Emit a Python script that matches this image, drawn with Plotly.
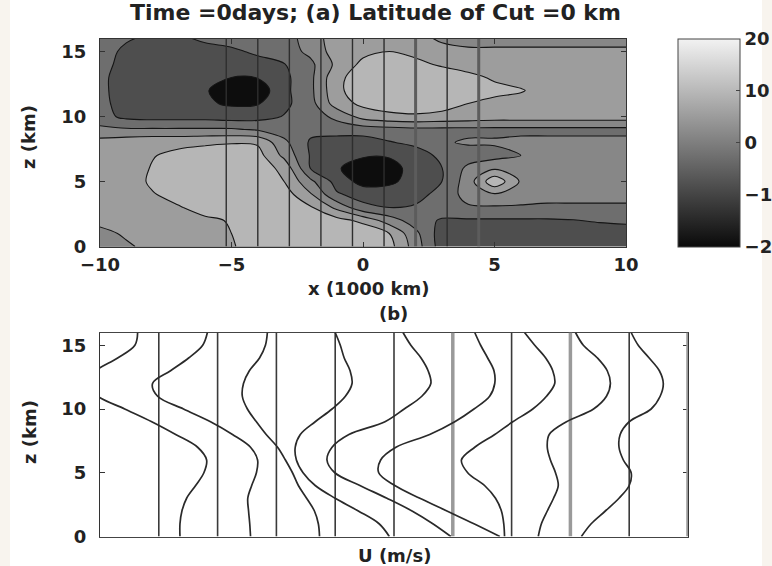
import plotly.graph_objects as go

W, H = 772, 566

# ---------------- data ----------------
# (a) zonal wind U (m/s) on an x-z grid: x in 1000 km, z in km
x_grid = list(range(-10, 11))
z_grid = list(range(0, 17))
u_field = [
    [-0.5, 1.5, 3, 4, 5, 5.8, 7, 8, 9, 9.5, 10, 7.5, 0, -8, -9, -9, -9, -9, -9, -9, -9],                      # z=0
    [1, 2.5, 3.5, 4.5, 5.5, 6, 7, 8, 8.5, 9, 9, 6, -1, -8, -8.5, -8.5, -8.5, -8.5, -8.5, -8.5, -8.5],           # z=1
    [3, 3, 4, 5, 5.5, 6.2, 7.5, 8, 8, 7.5, 5, 0, -4, -6.5, -6.5, -6.5, -6.5, -6.5, -6.2, -5.5, -5],            # z=2
    [3, 3.5, 4.5, 5.8, 7, 8, 8.5, 8, 6.5, 1, -5, -6, -5.5, -3.5, -2.5, -2.5, -2.5, -2.5, -2.5, -2.5, -2.5],    # z=3
    [3, 4, 5.8, 7, 8.5, 9, 9, 8, 2.5, -5.5, -7.5, -7.5, -7.5, -4.5, -0.5, 1.5, 0, -1, -1, -1, -1],              # z=4
    [3.5, 4.5, 6.5, 8.5, 9, 9, 8.5, 6, -1, -7.5, -11.5, -11, -8, -6, 0, 9, 1.5, 0, 0, 0, 0],                    # z=5
    [3.5, 4, 6.3, 8, 8.5, 8.5, 8, 5, -6, -9.5, -12.5, -12, -8, -6.1, -1, 1.5, 0, -0.5, 0, 0, 0],               # z=6
    [3.5, 4, 5.8, 7, 7.5, 8, 7.5, 1, -6.3, -9, -9.5, -9.5, -8, -5, -4, -3.5, -2, -1, -0.5, -0.5, -0.5],        # z=7
    [3.5, 4.5, 5, 5, 5.5, 5.8, 5.5, -1, -6.5, -8, -8, -6.3, -5, -2.5, -1.5, -1.5, -1, -1, -1, -1, -1],         # z=8
    [-1, -1.5, -1.5, -1.5, -1.5, -1.5, -2.5, -4, -5, -4, -4, -3.5, -3, -3, -3, -3, -3, -3, -3, -3, -3],        # z=9
    [-4.5, -7, -7.5, -7.5, -7.5, -8, -7.5, -5.8, -4, -1, 3.5, 5, 5.5, 5, 4.5, 4, 4, 4, 4, 4, 4],                # z=10
    [-5, -7.5, -8.5, -9, -9.5, -10.5, -10.3, -7, -3.5, 4, 7, 8, 8, 7.5, 6, 5, 4.5, 4, 4, 4, 4],                 # z=11
    [-5, -8, -9, -9, -9.5, -13, -12.5, -7, -3, 5, 8.5, 9.5, 9.5, 9, 8, 7, 6.3, 4.5, 4, 4, 4],                   # z=12
    [-5, -8, -9, -9.5, -9.5, -10, -9.8, -7, -3, 5, 8, 9, 9, 8.5, 7, 5.5, 4.5, 4, 4, 4, 4],                      # z=13
    [-4.5, -7.5, -9, -9, -9.5, -9, -8, -6.2, -3, 3, 7, 7.5, 7, 5.5, 4.5, 4, 4, 4, 4, 4, 4],                     # z=14
    [-4, -7, -8, -8, -8, -7, -5, -4, -1, 4, 5, 6, 5, 3, 2.5, 2.5, 2.5, 2.5, 2.5, 2.5, 2.5],                     # z=15
    [-4, -5.5, -7, -7, -5, -4, -4, -4, 0, 4, 4, 4, 3, 1.5, 1, 1, 1, 1, 1, 1, 1],                                # z=16
]

# longitudes of the vertical cuts (1000 km); panel (b) shows U(z) along each
cut_x = [-5.2, -4.0, -2.8, -1.6, -0.4, 0.8, 2.0, 3.2, 4.4]
gray_cuts = [6, 8]          # 0-based cuts drawn in gray in panel (a)
gray_slots = [6, 8, 10]     # zero lines drawn in gray in panel (b)

# (b) U profiles (m/s) at z = 0..16 km for each cut
prof_z = list(range(0, 17))
prof_u = [
    [5.4, 5.4, 5.9, 7.1, 9.4, 11.5, 12.2, 9.9, 4.3, -1.8, -8.7, -15.6, -18.9, -16.1, -10.5, -6.1, -5.4],
    [8.4, 8.2, 7.9, 7.7, 8.7, 9.9, 10.2, 8.4, 3.8, -1.8, -8.7, -15.3, -16.6, -12.0, -7.4, -3.8, -2.6],
    [11.0, 10.7, 9.7, 7.7, 5.6, 4.1, 2.3, 0.3, -2.6, -5.1, -7.4, -8.7, -8.4, -6.9, -4.3, -2.8, -2.3],
    [13.8, 11.2, 5.9, 0.0, -5.1, -8.2, -9.9, -10.2, -8.9, -5.1, -0.8, 2.6, 4.3, 3.8, 2.3, 1.3, 0.0],
    [14.5, 9.9, 4.6, -1.8, -8.7, -15.1, -17.1, -15.8, -11.5, -2.3, 2.6, 7.1, 9.4, 8.7, 6.9, 4.3, 2.3],
    [12.0, 5.4, -1.5, -8.4, -14.8, -18.9, -18.4, -14.5, -5.9, 0.5, 5.4, 9.4, 10.7, 10.5, 8.9, 7.1, 5.6],
    [-1.8, -2.0, -2.6, -4.1, -6.9, -11.2, -12.8, -9.4, -4.3, 0.3, 5.4, 8.9, 11.0, 10.5, 8.7, 5.9, 3.3],
    [-8.2, -7.4, -5.9, -4.3, -3.1, -3.8, -5.1, -5.9, -5.4, -1.0, 5.9, 9.2, 10.2, 9.4, 6.9, 3.3, 1.3],
    [-12.2, -9.7, -6.1, -2.6, 0.0, 0.5, -1.5, -2.6, -2.3, 0.0, 5.6, 7.9, 8.7, 7.7, 5.1, 2.3, 0.5],
]
u_per_slot = 15.0  # m/s per profile slot width in panel (b)

cb_ticks = [-20, -10, 0, 10, 20]
z_ticks = [0, 5, 10, 15]
x_ticks = [-10, -5, 0, 5, 10]

# ---------------- styling ----------------
font_tick = dict(family="DejaVu Sans", size=18, color="#222222", weight="bold")
font_label = dict(family="DejaVu Sans", size=18, color="#222222", weight="bold")
font_title = dict(family="DejaVu Sans", size=22, color="#222222", weight="bold")

# discrete gray bands for the filled contours (below -10 ... above 10)
band_colors = [
    [0.0, "#0d0d0d"],
    [1 / 6, "#4e4e4e"],
    [2 / 6, "#6e6e6e"],
    [3 / 6, "#878787"],
    [4 / 6, "#9d9d9d"],
    [5 / 6, "#b6b6b6"],
    [1.0, "#cbcbcb"],
]
bar_colors = [[0.0, "#0a0a0a"], [1.0, "#f2f2f2"]]

fig = go.Figure()

# panel (a): filled contours
fig.add_trace(go.Contour(
    x=x_grid, y=z_grid, z=u_field,
    contours=dict(start=-10, end=10, size=4, coloring="fill", showlines=True),
    colorscale=band_colors, showscale=False,
    line=dict(color="#151515", width=1.1, smoothing=1.0),
    hoverinfo="skip", xaxis="x", yaxis="y",
))


def vlines(xs, y0, y1):
    xx, yy = [], []
    for v in xs:
        xx += [v, v, None]
        yy += [y0, y1, None]
    return xx, yy


# panel (a): cut positions
dark = [c for i, c in enumerate(cut_x) if i not in gray_cuts]
light = [c for i, c in enumerate(cut_x) if i in gray_cuts]
for xs, col, wd in [(dark, "#2e2e2e", 1.4), (light, "#5c5c5c", 3)]:
    xx, yy = vlines(xs, 0, 16)
    fig.add_trace(go.Scatter(x=xx, y=yy, mode="lines", line=dict(color=col, width=wd),
                             hoverinfo="skip", showlegend=False, xaxis="x", yaxis="y"))

# continuous gray colour bar for U
fig.add_trace(go.Scatter(
    x=[0, 0], y=[8, 8], mode="markers", hoverinfo="skip", showlegend=False,
    marker=dict(size=1, opacity=0, color=[cb_ticks[0], cb_ticks[-1]], colorscale=bar_colors,
                cmin=cb_ticks[0], cmax=cb_ticks[-1], showscale=True,
                colorbar=dict(x=678 / W, xanchor="left", y=1 - 38.5 / H, yanchor="top",
                              len=208, lenmode="pixels", thickness=62, thicknessmode="pixels",
                              xpad=0, ypad=0, outlinewidth=1, outlinecolor="#444444",
                              ticks="inside", ticklen=4, tickcolor="#444444",
                              tickvals=cb_ticks, tickfont=font_tick)),
    xaxis="x", yaxis="y",
))

# panel (b): zero lines of each profile
n = len(prof_u)
slots = list(range(1, n + 2))
dark_slots = [k for k in slots if k not in gray_slots]
light_slots = [k for k in slots if k in gray_slots]
for xs, col, wd in [(dark_slots, "#3a3a3a", 1.6), (light_slots, "#9a9a9a", 3.5)]:
    xx, yy = vlines(xs, 0, 16)
    fig.add_trace(go.Scatter(x=xx, y=yy, mode="lines", line=dict(color=col, width=wd),
                             hoverinfo="skip", showlegend=False, xaxis="x2", yaxis="y2"))

# panel (b): U profiles offset by slot
for k, u in enumerate(prof_u, start=1):
    fig.add_trace(go.Scatter(
        x=[k + v / u_per_slot for v in u], y=prof_z, mode="lines",
        line=dict(color="#2a2a2a", width=1.7, shape="spline", smoothing=1.0),
        hoverinfo="skip", showlegend=False, xaxis="x2", yaxis="y2",
    ))

axis_common = dict(showgrid=False, zeroline=False, showline=True, linecolor="#333333",
                   linewidth=1, mirror="ticks", ticks="inside", ticklen=5,
                   tickcolor="#333333", tickfont=font_tick)

fig.update_layout(
    width=W, height=H,
    margin=dict(l=0, r=0, t=0, b=0, autoexpand=False),
    paper_bgcolor="white", plot_bgcolor="white",
    showlegend=False,
    xaxis=dict(domain=[100 / W, 626 / W], range=[-10, 10], tickvals=x_ticks,
               anchor="y", ticklabelstandoff=2, **axis_common),
    yaxis=dict(domain=[1 - 246.5 / H, 1 - 38.5 / H], range=[0, 16], tickvals=z_ticks,
               anchor="x", ticklabelstandoff=9, **axis_common),
    xaxis2=dict(domain=[100 / W, 688 / W], range=[0, 10], anchor="y2",
                showticklabels=False, ticks="", showgrid=False, zeroline=False,
                showline=True, mirror=True, linecolor="#444444", linewidth=1,
                layer="below traces"),
    yaxis2=dict(domain=[1 - 536.5 / H, 1 - 332.5 / H], range=[0, 16], tickvals=z_ticks,
                anchor="x2", ticklabelstandoff=9, layer="below traces", **axis_common),
    shapes=[
        dict(type="rect", xref="paper", yref="paper", x0=0, x1=10 / W, y0=0, y1=1,
             fillcolor="#f8f4ee", line_width=0, layer="below"),
        dict(type="rect", xref="paper", yref="paper", x0=762 / W, x1=1, y0=0, y1=1,
             fillcolor="#f8f4ee", line_width=0, layer="below"),
    ],
    annotations=[
        dict(text="Time =0days; (a) Latitude of Cut =0 km", x=375 / W, y=1 - 12 / H,
             xref="paper", yref="paper", showarrow=False, font=font_title,
             xanchor="center", yanchor="middle"),
        dict(text="x (1000 km)", x=368 / W, y=1 - 288 / H, xref="paper", yref="paper",
             showarrow=False, font=font_label, xanchor="center", yanchor="middle"),
        dict(text="(b)", x=393 / W, y=1 - 313 / H, xref="paper", yref="paper",
             showarrow=False, font=font_label, xanchor="center", yanchor="middle"),
        dict(text="U (m/s)", x=394 / W, y=1 - 555 / H, xref="paper", yref="paper",
             showarrow=False, font=font_label, xanchor="center", yanchor="middle"),
        dict(text="z (km)", x=29 / W, y=1 - 137 / H, xref="paper", yref="paper",
             showarrow=False, font=font_label, textangle=-90,
             xanchor="center", yanchor="middle"),
        dict(text="z (km)", x=29 / W, y=1 - 432 / H, xref="paper", yref="paper",
             showarrow=False, font=font_label, textangle=-90,
             xanchor="center", yanchor="middle"),
    ],
)

fig.write_html("out.html")
